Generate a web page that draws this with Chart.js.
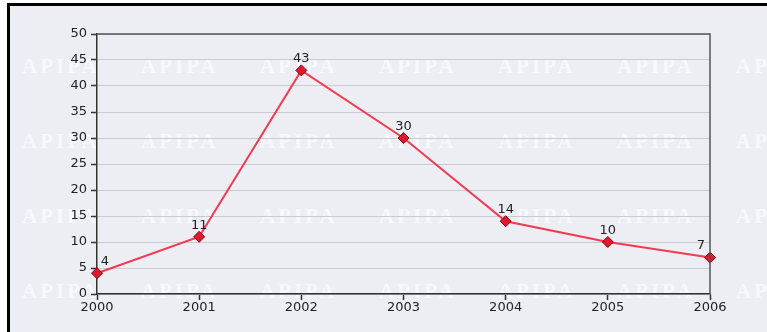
<!DOCTYPE html>
<html>
<head>
<meta charset="utf-8">
<script src="https://cdn.jsdelivr.net/npm/chart.js@4"></script>
<style>
  html, body { margin: 0; padding: 0; background: #fff; }
  #frame {
    position: absolute; left: 7px; top: 3px;
    width: 757px; height: 326px;
    border-top: 3px solid #000; border-left: 3px solid #000;
    background: #eceef4;
  }
</style>
</head>
<body>
<div id="frame"><canvas id="lineChart" width="757" height="326"></canvas></div>
<script>
// Chart data
const years = ['2000', '2001', '2002', '2003', '2004', '2005', '2006'];
const counts = [4, 11, 43, 30, 14, 10, 7];
const yTicks = [0, 5, 10, 15, 20, 25, 30, 35, 40, 45, 50];

const tickFont = { family: 'DejaVu Sans', size: 13 };

// Faint watermark behind the plot
const watermark = {
  id: 'watermark',
  beforeDraw(chart) {
    const ctx = chart.ctx;
    ctx.save();
    ctx.fillStyle = 'rgba(255,255,255,0.6)';
    ctx.font = 'bold 21px "Liberation Serif"';
    ctx.letterSpacing = '3px';
    ctx.textBaseline = 'middle';
    for (let row = 0; row < 4; row++) {
      for (let col = 0; col < 7; col++) {
        ctx.fillText('APIPA', 12 + col * 119, 62 + row * 75);
      }
    }
    ctx.restore();
  }
};

// Dark border on top and right of the plot area
const plotBorder = {
  id: 'plotBorder',
  afterDatasetsDraw(chart) {
    const { ctx, chartArea } = chart;
    ctx.save();
    ctx.strokeStyle = '#555';
    ctx.lineWidth = 1.5;
    ctx.beginPath();
    ctx.moveTo(chartArea.left, chartArea.top);
    ctx.lineTo(chartArea.right, chartArea.top);
    ctx.lineTo(chartArea.right, chartArea.bottom);
    ctx.stroke();
    ctx.restore();
  }
};

// Value labels above each point
const valueLabels = {
  id: 'valueLabels',
  afterDraw(chart) {
    const ctx = chart.ctx;
    const meta = chart.getDatasetMeta(0);
    ctx.save();
    ctx.font = '13px "DejaVu Sans"';
    ctx.fillStyle = '#222';
    ctx.textAlign = 'center';
    ctx.textBaseline = 'bottom';
    meta.data.forEach((pt, i) => {
      let dx = 0;
      if (i === 0) dx = 8;
      if (i === meta.data.length - 1) dx = -9;
      ctx.fillText(counts[i], pt.x + dx, pt.y - 5);
    });
    ctx.restore();
  }
};

new Chart(document.getElementById('lineChart'), {
  type: 'line',
  data: {
    labels: years,
    datasets: [{
      data: counts,
      borderColor: '#f23a50',
      borderWidth: 2,
      tension: 0,
      pointStyle: 'rectRot',
      pointRadius: 5.5,
      pointHoverRadius: 5.5,
      pointBackgroundColor: '#dd1a30',
      pointBorderColor: '#8b0010',
      pointBorderWidth: 1
    }]
  },
  options: {
    responsive: false,
    animation: false,
    layout: { padding: { top: 28, right: 57, left: 0, bottom: 0 } },
    plugins: {
      legend: { display: false },
      tooltip: { enabled: false }
    },
    scales: {
      x: {
        offset: false,
        grid: { drawOnChartArea: false, tickLength: 6, tickColor: '#333', tickWidth: 1.5 },
        border: { color: '#333', width: 1.5 },
        ticks: { font: tickFont, color: '#222', padding: 0, maxRotation: 0 },
        afterFit(scale) { scale.height = 38; }
      },
      y: {
        min: 0,
        max: 50,
        afterBuildTicks(scale) { scale.ticks = yTicks.map(v => ({ value: v })); },
        grid: { color: '#c9cbd0', lineWidth: 1, tickLength: 6, tickColor: '#333', tickWidth: 1.5 },
        border: { color: '#333', width: 1.5 },
        ticks: { font: tickFont, color: '#222', padding: 4 },
        afterFit(scale) { scale.width = 87; }
      }
    }
  },
  plugins: [watermark, plotBorder, valueLabels]
});
</script>
</body>
</html>
